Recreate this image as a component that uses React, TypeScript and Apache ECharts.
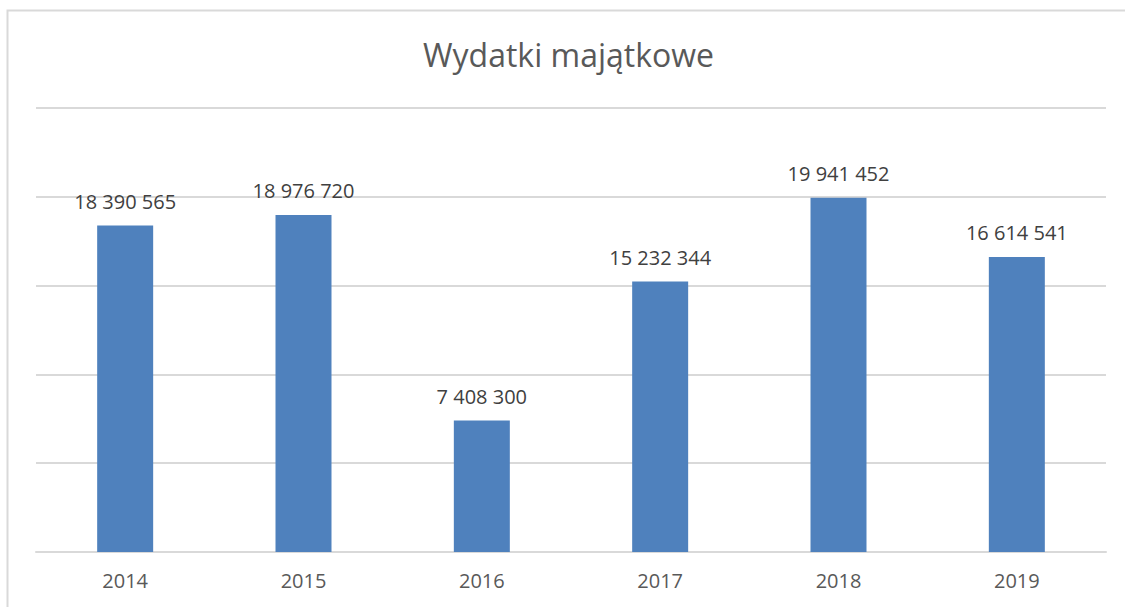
import React, { useEffect, useRef } from "react";
import * as echarts from "echarts";

const categories = ["2014", "2015", "2016", "2017", "2018", "2019"];
const values = [18390565, 18976720, 7408300, 15232344, 19941452, 16614541];
const title = "Wydatki majątkowe";

const fmt = (v: number) => String(v).replace(/\B(?=(\d{3})+(?!\d))/g, " ");

export default function App() {
  const ref = useRef<HTMLDivElement>(null);
  useEffect(() => {
    const chart = echarts.init(ref.current!, undefined, { renderer: "svg" });
    const font = "'Open Sans', 'Noto Sans', sans-serif";
    chart.setOption({
      animation: false,
      backgroundColor: "#ffffff",
      textStyle: { fontFamily: font },
      title: {
        text: title,
        left: 418,
        top: 33,
        textStyle: { fontSize: 32, fontWeight: "normal", color: "#595959", fontFamily: font },
      },
      graphic: [
        {
          type: "rect",
          shape: { x: 7.5, y: 10.5, width: 1300, height: 800 },
          style: { fill: "none", stroke: "#d9d9d9", lineWidth: 2 },
          silent: true,
          z: -1,
        },
      ],
      grid: { left: 36, right: 19, top: 108, bottom: 55 },
      xAxis: {
        type: "category",
        data: categories,
        axisTick: { show: false },
        axisLine: { lineStyle: { color: "#d9d9d9", width: 2 } },
        axisLabel: { color: "#595959", fontSize: 20, margin: 18, fontFamily: font },
      },
      yAxis: {
        type: "value",
        min: 0,
        max: 25000000,
        interval: 5000000,
        axisLabel: { show: false },
        axisLine: { show: false },
        axisTick: { show: false },
        splitLine: { lineStyle: { color: "#d9d9d9", width: 2 } },
      },
      series: [
        {
          type: "bar",
          data: values,
          barWidth: "31.4%",
          itemStyle: { color: "#4f81bd" },
          label: {
            show: true,
            position: "top",
            distance: 14,
            color: "#404040",
            fontSize: 20,
            fontFamily: font,
            formatter: (p: any) => fmt(p.value),
          },
        },
      ],
    });
    return () => chart.dispose();
  }, []);
  return (
    <div
      ref={ref}
      style={{ position: "absolute", left: 0, top: 0, width: 1125, height: 607 }}
    />
  );
}
